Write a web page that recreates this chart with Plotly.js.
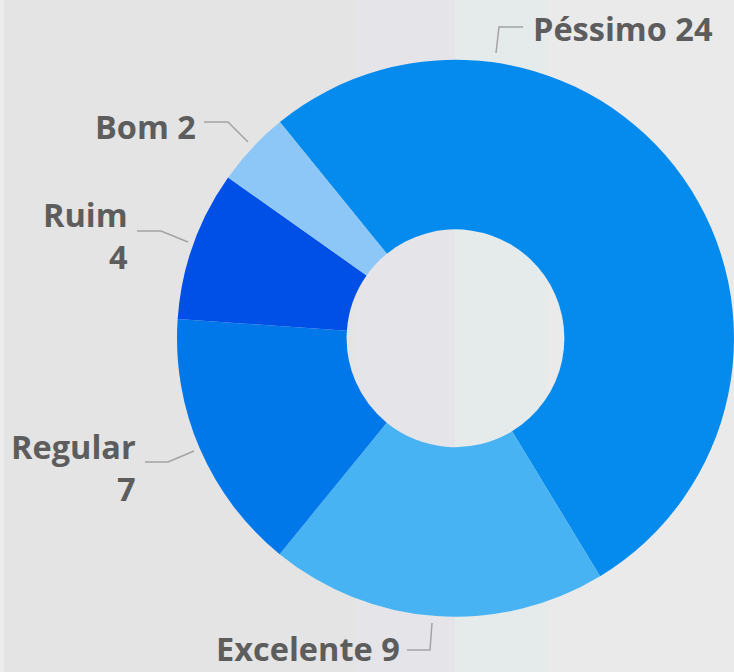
<!DOCTYPE html>
<html><head><meta charset="utf-8">
<script src="https://cdn.plot.ly/plotly-3.0.1.min.js"></script>
<style>html,body{margin:0;padding:0;background:#e4e4e4}#chart{width:734px;height:672px}</style>
</head><body><div id="chart"></div>
<script>
// ---- data ----
const categories = ['Péssimo', 'Excelente', 'Regular', 'Ruim', 'Bom'];
const values = [24, 9, 7, 4, 2];
const sliceColors = ['#058bed', '#47b3f3', '#0178ea', '#0050e8', '#8dc7f7'];

// ---- layout helpers (pixels -> paper) ----
const W = 734, H = 672;
const px = x => x / W, py = y => 1 - y / H;

const labelPlacement = [
  {x: 532, y: 29,  xanchor: 'left',  br: false, line: [[496, 53], [499, 27], [523, 27]]},
  {x: 401, y: 648, xanchor: 'right', br: false, line: [[432, 623], [430, 650], [407, 650]]},
  {x: 137, y: 467, xanchor: 'right', br: true,  line: [[194, 451], [168, 462], [145, 462]]},
  {x: 129, y: 236, xanchor: 'right', br: true,  line: [[188, 242], [161, 231], [137, 231]]},
  {x: 197, y: 126, xanchor: 'right', br: false, line: [[248, 142], [228, 122], [204, 122]]}
];

const bands = [
  [0, 4, '#ececec'], [4, 355, '#e4e4e4'], [355, 455, '#e5e4e8'],
  [455, 546, '#e5eaea'], [546, 734, '#eaeaea']
];

const shapes = bands.map(b => ({
  type: 'rect', xref: 'paper', yref: 'paper', layer: 'below',
  x0: px(b[0]), x1: px(b[1]), y0: 0, y1: 1,
  fillcolor: b[2], line: {width: 0}
}));

const annotations = [];
categories.forEach((c, i) => {
  const p = labelPlacement[i];
  const txt = c + (p.br ? '<br>' : ' ') + values[i];
  annotations.push({
    xref: 'paper', yref: 'paper', x: px(p.x), y: py(p.y),
    xanchor: p.xanchor, yanchor: 'middle', align: p.xanchor,
    text: '<b>' + txt + '</b>', showarrow: false, borderpad: 0,
    font: {family: 'Open Sans, sans-serif', size: 32.5, color: '#5d5d5d'}
  });
  const path = p.line.map((pt, k) => (k ? 'L' : 'M') + px(pt[0]) + ',' + py(pt[1])).join(' ');
  shapes.push({
    type: 'path', xref: 'paper', yref: 'paper', path: path, layer: 'above',
    line: {color: '#a3a3a3', width: 1.5}
  });
});

const trace = {
  type: 'pie',
  labels: categories,
  values: values,
  sort: false,
  direction: 'clockwise',
  rotation: -39.1,
  hole: 0.391,
  textinfo: 'none',
  hoverinfo: 'label+value',
  marker: {colors: sliceColors, line: {width: 0}},
  domain: {x: [px(177), 1], y: [py(617), py(59.5)]}
};

const layout = {
  width: W, height: H,
  margin: {l: 0, r: 0, t: 0, b: 0},
  paper_bgcolor: '#e4e4e4',
  showlegend: false,
  shapes: shapes,
  annotations: annotations
};

Plotly.newPlot('chart', [trace], layout, {displayModeBar: false, staticPlot: true});
</script>
</body></html>
